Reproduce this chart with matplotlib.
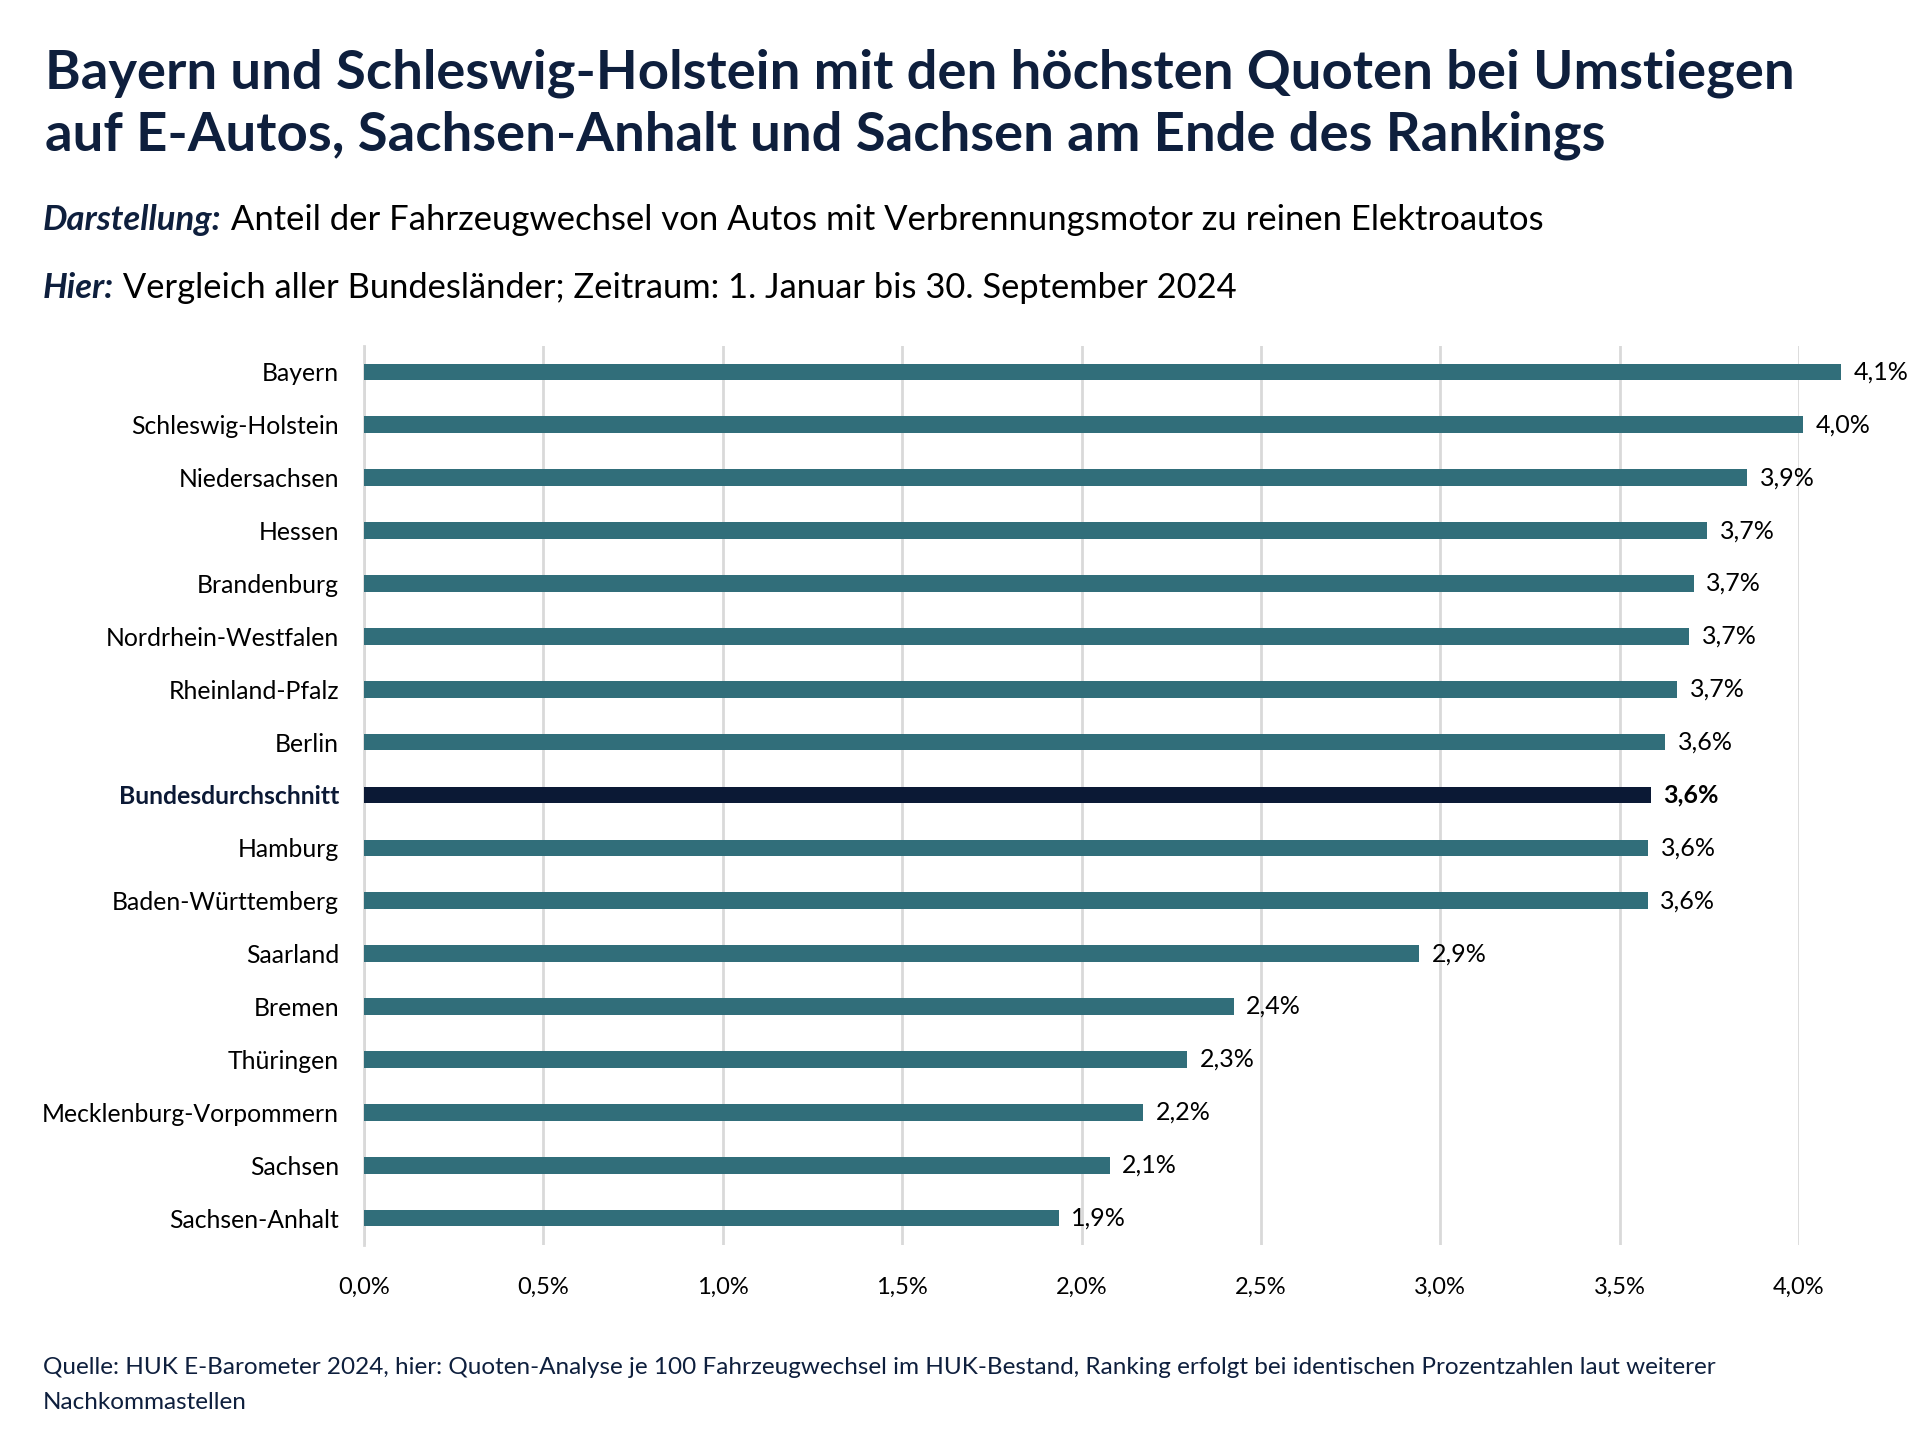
import matplotlib
matplotlib.use("Agg")
import matplotlib.pyplot as plt
from matplotlib.ticker import FixedLocator, FuncFormatter

# ---- data ----
states = ["Bayern", "Schleswig-Holstein", "Niedersachsen", "Hessen", "Brandenburg",
          "Nordrhein-Westfalen", "Rheinland-Pfalz", "Berlin", "Bundesdurchschnitt",
          "Hamburg", "Baden-Württemberg", "Saarland", "Bremen", "Thüringen",
          "Mecklenburg-Vorpommern", "Sachsen", "Sachsen-Anhalt"]
values = [4.118, 4.012, 3.856, 3.744, 3.706, 3.694, 3.660, 3.627, 3.587,
          3.580, 3.578, 2.942, 2.424, 2.295, 2.172, 2.079, 1.937]
highlight = "Bundesdurchschnitt"
xticks = [0.0, 0.5, 1.0, 1.5, 2.0, 2.5, 3.0, 3.5, 4.0]

title_lines = ["Bayern und Schleswig-Holstein mit den höchsten Quoten bei Umstiegen",
               "auf E-Autos, Sachsen-Anhalt und Sachsen am Ende des Rankings"]
sub1 = ("Darstellung:", " Anteil der Fahrzeugwechsel von Autos mit Verbrennungsmotor zu reinen Elektroautos")
sub2 = ("Hier:", " Vergleich aller Bundesländer; Zeitraum: 1. Januar bis 30. September 2024")
footer = ["Quelle: HUK E-Barometer 2024, hier: Quoten-Analyse je 100 Fahrzeugwechsel im HUK-Bestand, Ranking erfolgt bei identischen Prozentzahlen laut weiterer",
          "Nachkommastellen"]

TEAL = "#316e7a"
NAVY = "#0b1935"
TITLE = "#0e1f3d"
GRID = "#d9d9d9"
FONT = ["Lato", "DejaVu Sans"]

plt.rcParams["font.family"] = FONT

W, H = 1920, 1440
fig = plt.figure(figsize=(W / 100, H / 100), dpi=100)

def fx(px):
    return px / W

def fy(py):
    return 1 - py / H

ax = fig.add_axes([fx(364), fy(1244.5), fx(1799) - fx(364), fy(345.5) - fy(1244.5)])

ypos = list(range(len(states)))
colors = [NAVY if s == highlight else TEAL for s in states]
bars = ax.barh(ypos, values, height=0.315, color=colors, zorder=3)
for b in bars:
    b.set_clip_on(False)

ax.set_ylim(len(states) - 0.5, -0.5)
ax.set_xlim(0, 4.0)
ax.xaxis.set_major_locator(FixedLocator(xticks))
ax.xaxis.set_major_formatter(FuncFormatter(lambda v, p: f"{v:.1f}".replace(".", ",") + "%"))
ax.grid(axis="x", color=GRID, linewidth=2, zorder=0)
ax.set_axisbelow(True)
for side in ["top", "right", "bottom"]:
    ax.spines[side].set_visible(False)
ax.spines["left"].set_color(GRID)
ax.spines["left"].set_linewidth(2)
ax.tick_params(axis="both", length=0)
ax.tick_params(axis="x", labelsize=17, pad=23, colors="black")
ax.set_yticks(ypos)
ax.set_yticklabels(states, fontsize=17.8)
ax.tick_params(axis="y", pad=18)
for lbl in ax.get_yticklabels():
    if lbl.get_text() == highlight:
        lbl.set_fontweight("bold")
        lbl.set_color(NAVY)

for y, v, s in zip(ypos, values, states):
    txt = f"{v:.1f}".replace(".", ",") + "%"
    ax.annotate(txt, (v, y), xytext=(9, 0), textcoords="offset points",
                va="center", ha="left", fontsize=18,
                fontweight="bold" if s == highlight else "normal", color="black",
                annotation_clip=False)

# ---- texts ----
fig.text(fx(45), fy(88), title_lines[0], fontsize=39.2, fontweight="bold", color=TITLE, va="baseline")
fig.text(fx(45), fy(150), title_lines[1], fontsize=39.2, fontweight="bold", color=TITLE, va="baseline")

fig.canvas.draw()
renderer = fig.canvas.get_renderer()

def two_part(x, y, bold, rest, size):
    t = fig.text(fx(x), fy(y), bold, fontsize=size, fontweight="bold", fontstyle="italic",
                 color=TITLE, va="baseline")
    bb = t.get_window_extent(renderer)
    fig.text(bb.x1 / W, fy(y), rest, fontsize=size, color="black", va="baseline")

two_part(43, 230, sub1[0], sub1[1], 24.9)
two_part(43, 298, sub2[0], sub2[1], 24.8)

fig.text(fx(43), fy(1374), footer[0], fontsize=17.5, color=TITLE, va="baseline")
fig.text(fx(43), fy(1409), footer[1], fontsize=17.5, color=TITLE, va="baseline")

fig.savefig("out.png", dpi=100)
